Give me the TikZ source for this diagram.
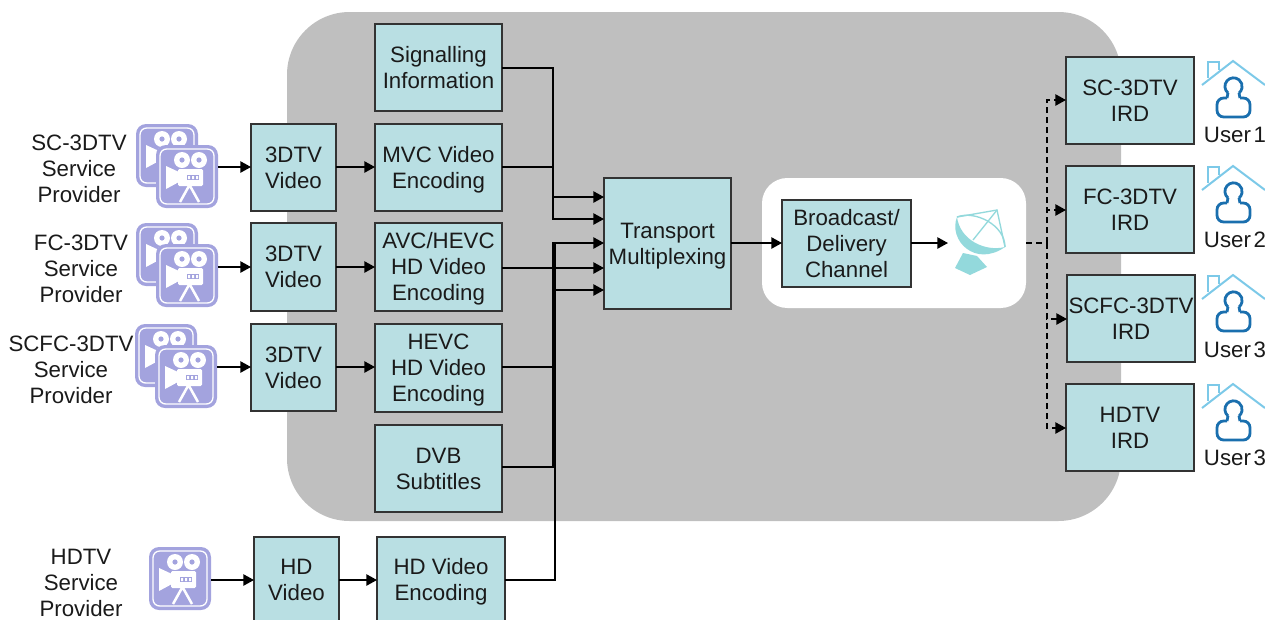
\documentclass[tikz,border=0pt]{standalone}
\usepackage{fontspec}
\setmainfont{Liberation Sans}
\usetikzlibrary{arrows.meta}
\definecolor{boxfill}{HTML}{B9DFE3}
\definecolor{boxline}{HTML}{333333}
\definecolor{panel}{HTML}{BFBFBF}
\definecolor{cam}{HTML}{A3A3DE}
\definecolor{dish}{HTML}{93D9DC}
\definecolor{roof}{HTML}{7CC9E8}
\definecolor{person}{HTML}{1A6FAE}
\definecolor{txt}{HTML}{1A1A1A}
\newsavebox{\txtbox}
\newcommand{\tx}[1]{\sbox{\txtbox}{\begin{tabular}{@{}c@{}}#1\end{tabular}}\raisebox{-2pt}[\ht\txtbox][\dp\txtbox]{\usebox{\txtbox}}}
\tikzset{
 base/.style={font=\fontsize{16.7}{19.5}\selectfont,text=txt,inner sep=0pt,outer sep=0pt},
 box/.style={base,draw=boxline,fill=boxfill,line width=1.1pt},
 lab/.style={base},
 conn/.style={draw=black,line width=1.1pt,-{Triangle[length=8pt,width=8.5pt]}},
 plain/.style={draw=black,line width=1.1pt},
 dconn/.style={conn,dash pattern=on 4.5pt off 3pt},
 dplain/.style={plain,dash pattern=on 4.5pt off 3pt},
 camicon/.pic={
  \fill[cam,rounded corners=7.5pt] (0,0) rectangle (62,63);
  \draw[white,line width=1pt,rounded corners=5pt] (4,4) rectangle (58,59);
  \fill[white] (26,15) circle[radius=8] (43,15) circle[radius=8];
  \fill[cam] (26,15) circle[radius=2.6] (43,15) circle[radius=2.6];
  \fill[white,rounded corners=1pt] (22,24) rectangle (47,41);
  \fill[white] (10,21) -- (23,27) -- (23,37) -- (10,44) -- cycle;
  \fill[cam] (31,30) rectangle (43,35);
  \fill[white] (32,31) rectangle (34,34) (36,31) rectangle (38,34) (40,31) rectangle (42,34);
  \draw[white,line width=1.9pt] (24,57) -- (33.5,40) -- (43,57);
 },
 houseicon/.pic={
  \draw[roof,line width=1.5pt] (0,25) -- (31,1) -- (63,25);
  \draw[roof,line width=1.5pt] (6,18) -- (6,2) -- (17,2) -- (17,10);
  \draw[person,line width=2.1pt,rounded corners=5pt]
   (25,38) -- (15,38) -- (15,57) -- (48,57) -- (48,38) -- (38,38);
  \draw[person,line width=2.1pt] (25,38) -- (26,33) (38,38) -- (37,33);
  \draw[person,line width=2.1pt] (26,33) arc[start angle=130,end angle=410,radius=8.6];
 },
}
\newcommand{\bx}[6]{\node[box,minimum width={(#4-#2)*0.75pt},minimum height={(#5-#3)*0.75pt}] (#1) at ({(#2+#4)/2},{(#3+#5)/2}) {\tx{#6}};}
\begin{document}
\begin{tikzpicture}[x=0.75pt,y=-0.75pt]
\useasboundingbox (0,0) rectangle (1265,619);
% panels
\fill[panel,rounded corners=47pt] (287,12) rectangle (1121,521);
\fill[white,rounded corners=19pt] (762,178) rectangle (1026,308);
% boxes
\bx{sig}{375}{24}{502}{111}{Signalling\\Information}
\bx{mvc}{375}{124}{502}{211}{MVC Video\\Encoding}
\bx{avc}{375}{223}{502}{311}{AVC/HEVC\\HD Video\\Encoding}
\bx{hevc}{375}{324}{502}{412}{HEVC\\HD Video\\Encoding}
\bx{dvb}{375}{425}{502}{512}{DVB\\Subtitles}
\bx{hdenc}{377}{537}{505}{623}{HD Video\\Encoding}
\bx{vone}{251}{124}{336}{211}{3DTV\\Video}
\bx{vtwo}{251}{223}{336}{311}{3DTV\\Video}
\bx{vthree}{251}{324}{336}{411}{3DTV\\Video}
\bx{vhd}{254}{537}{339}{623}{HD\\Video}
\bx{mux}{604}{178}{731}{309}{Transport\\Multiplexing}
\bx{chan}{782}{200}{911}{287}{Broadcast/\\Delivery\\Channel}
\bx{irdone}{1066}{57}{1194}{144}{SC-3DTV\\IRD}
\bx{irdtwo}{1066}{166}{1194}{253}{FC-3DTV\\IRD}
\bx{irdthree}{1067}{275}{1195}{362}{SCFC-3DTV\\IRD}
\bx{irdfour}{1066}{384}{1194}{471}{HDTV\\IRD}
% provider labels
\node[lab] (lone) at (79,169) {\tx{SC-3DTV\\Service\\Provider}};
\node[lab] (ltwo) at (81,269) {\tx{FC-3DTV\\Service\\Provider}};
\node[lab] (lthree) at (71,370) {\tx{SCFC-3DTV\\Service\\Provider}};
\node[lab] (lfour) at (81,583) {\tx{HDTV\\Service\\Provider}};
% cameras
\pic at (136,124) {camicon};
\pic at (156,145) {camicon};
\pic at (136,223) {camicon};
\pic at (156,244) {camicon};
\pic at (135,324) {camicon};
\pic at (155,345) {camicon};
\pic at (149,547) {camicon};
\coordinate (cone) at (218,167);
\coordinate (ctwo) at (218,267);
\coordinate (cthree) at (217,367);
\coordinate (cfour) at (211,580);
% houses
\pic at (1202,60) {houseicon};
\pic at (1202,165) {houseicon};
\pic at (1202,274) {houseicon};
\pic at (1202,383) {houseicon};
\node[lab] (uone) at (1235,135) {\tx{User\hspace{2pt}1}};
\node[lab] (utwo) at (1235,240) {\tx{User\hspace{2pt}2}};
\node[lab] (uthree) at (1235,350) {\tx{User\hspace{2pt}3}};
\node[lab] (ufour) at (1235,458) {\tx{User\hspace{2pt}3}};
% dish
\fill[dish] (957,217) .. controls (948,240) and (975,268) .. (1005,247)
   .. controls (985,252) and (960,240) .. (957,217) -- cycle;
\draw[dish,line width=1pt] (957,217) -- (997,210) -- (1005,247);
\draw[dish,line width=1pt] (997,210) -- (973,240);
\draw[dish,line width=1pt] (957,217) .. controls (975,210) and (1005,225) .. (1005,247);
\fill[dish] (963,253) -- (955,268) -- (970,275) -- (987,267) -- (977,256) -- cycle;
\coordinate (dishin) at (948,243);
\coordinate (dishout) at (1026,243);
% rows
\coordinate (ra) at (0,167);
\coordinate (rb) at (0,267);
\coordinate (rc) at (0,367);
\coordinate (rd) at (0,467);
% connectors: sources
\draw[conn] (cone) -- (cone -| vone.west);
\draw[conn] (ctwo) -- (ctwo -| vtwo.west);
\draw[conn] (cthree) -- (cthree -| vthree.west);
\draw[conn] (cfour) -- (cfour -| vhd.west);
\draw[conn] (vone.east |- ra) -- (mvc.west |- ra);
\draw[conn] (vtwo.east |- rb) -- (avc.west |- rb);
\draw[conn] (vthree.east |- rc) -- (hevc.west |- rc);
\draw[conn] (vhd.east) -- (hdenc.west);
% connectors: into mux
\coordinate (ta) at (604,197);
\coordinate (tb) at (604,219);
\coordinate (tc) at (604,243);
\coordinate (td) at (604,268);
\coordinate (te) at (604,290);
\coordinate (ja) at (553,197);
\coordinate (jb) at (553,219);
\coordinate (jc) at (553,243);
\coordinate (jd) at (553,290);
\coordinate (jh) at (555,243);
\draw[conn] (sig.east |- 0,68) -| (ja) -- (ta);
\draw[conn] (mvc.east |- ra) -| (jb) -- (tb);
\draw[conn] (avc.east |- td) -- (td);
\draw[conn] (hevc.east |- rc) -| (jc) -- (tc);
\draw[conn] (dvb.east |- rd) -| (jd) -- (te);
\draw[plain] (hdenc.east) -| (jh);
% connectors: out
\draw[conn] (mux.east |- tc) -- (chan.west |- tc);
\draw[conn] (chan.east |- dishin) -- (dishin);
\coordinate (bus) at (1047,243);
\coordinate (busa) at (1047,100);
\coordinate (busb) at (1047,210);
\coordinate (busc) at (1047,319);
\coordinate (busd) at (1047,428);
\draw[dplain] (dishout) -- (bus);
\draw[dconn] (bus) -- (busa) -- (busa -| irdone.west);
\draw[dconn] (bus) -- (busb) -- (busb -| irdtwo.west);
\draw[dconn] (bus) -- (busc) -- (busc -| irdthree.west);
\draw[dconn] (bus) -- (busd) -- (busd -| irdfour.west);
\end{tikzpicture}
\end{document}
